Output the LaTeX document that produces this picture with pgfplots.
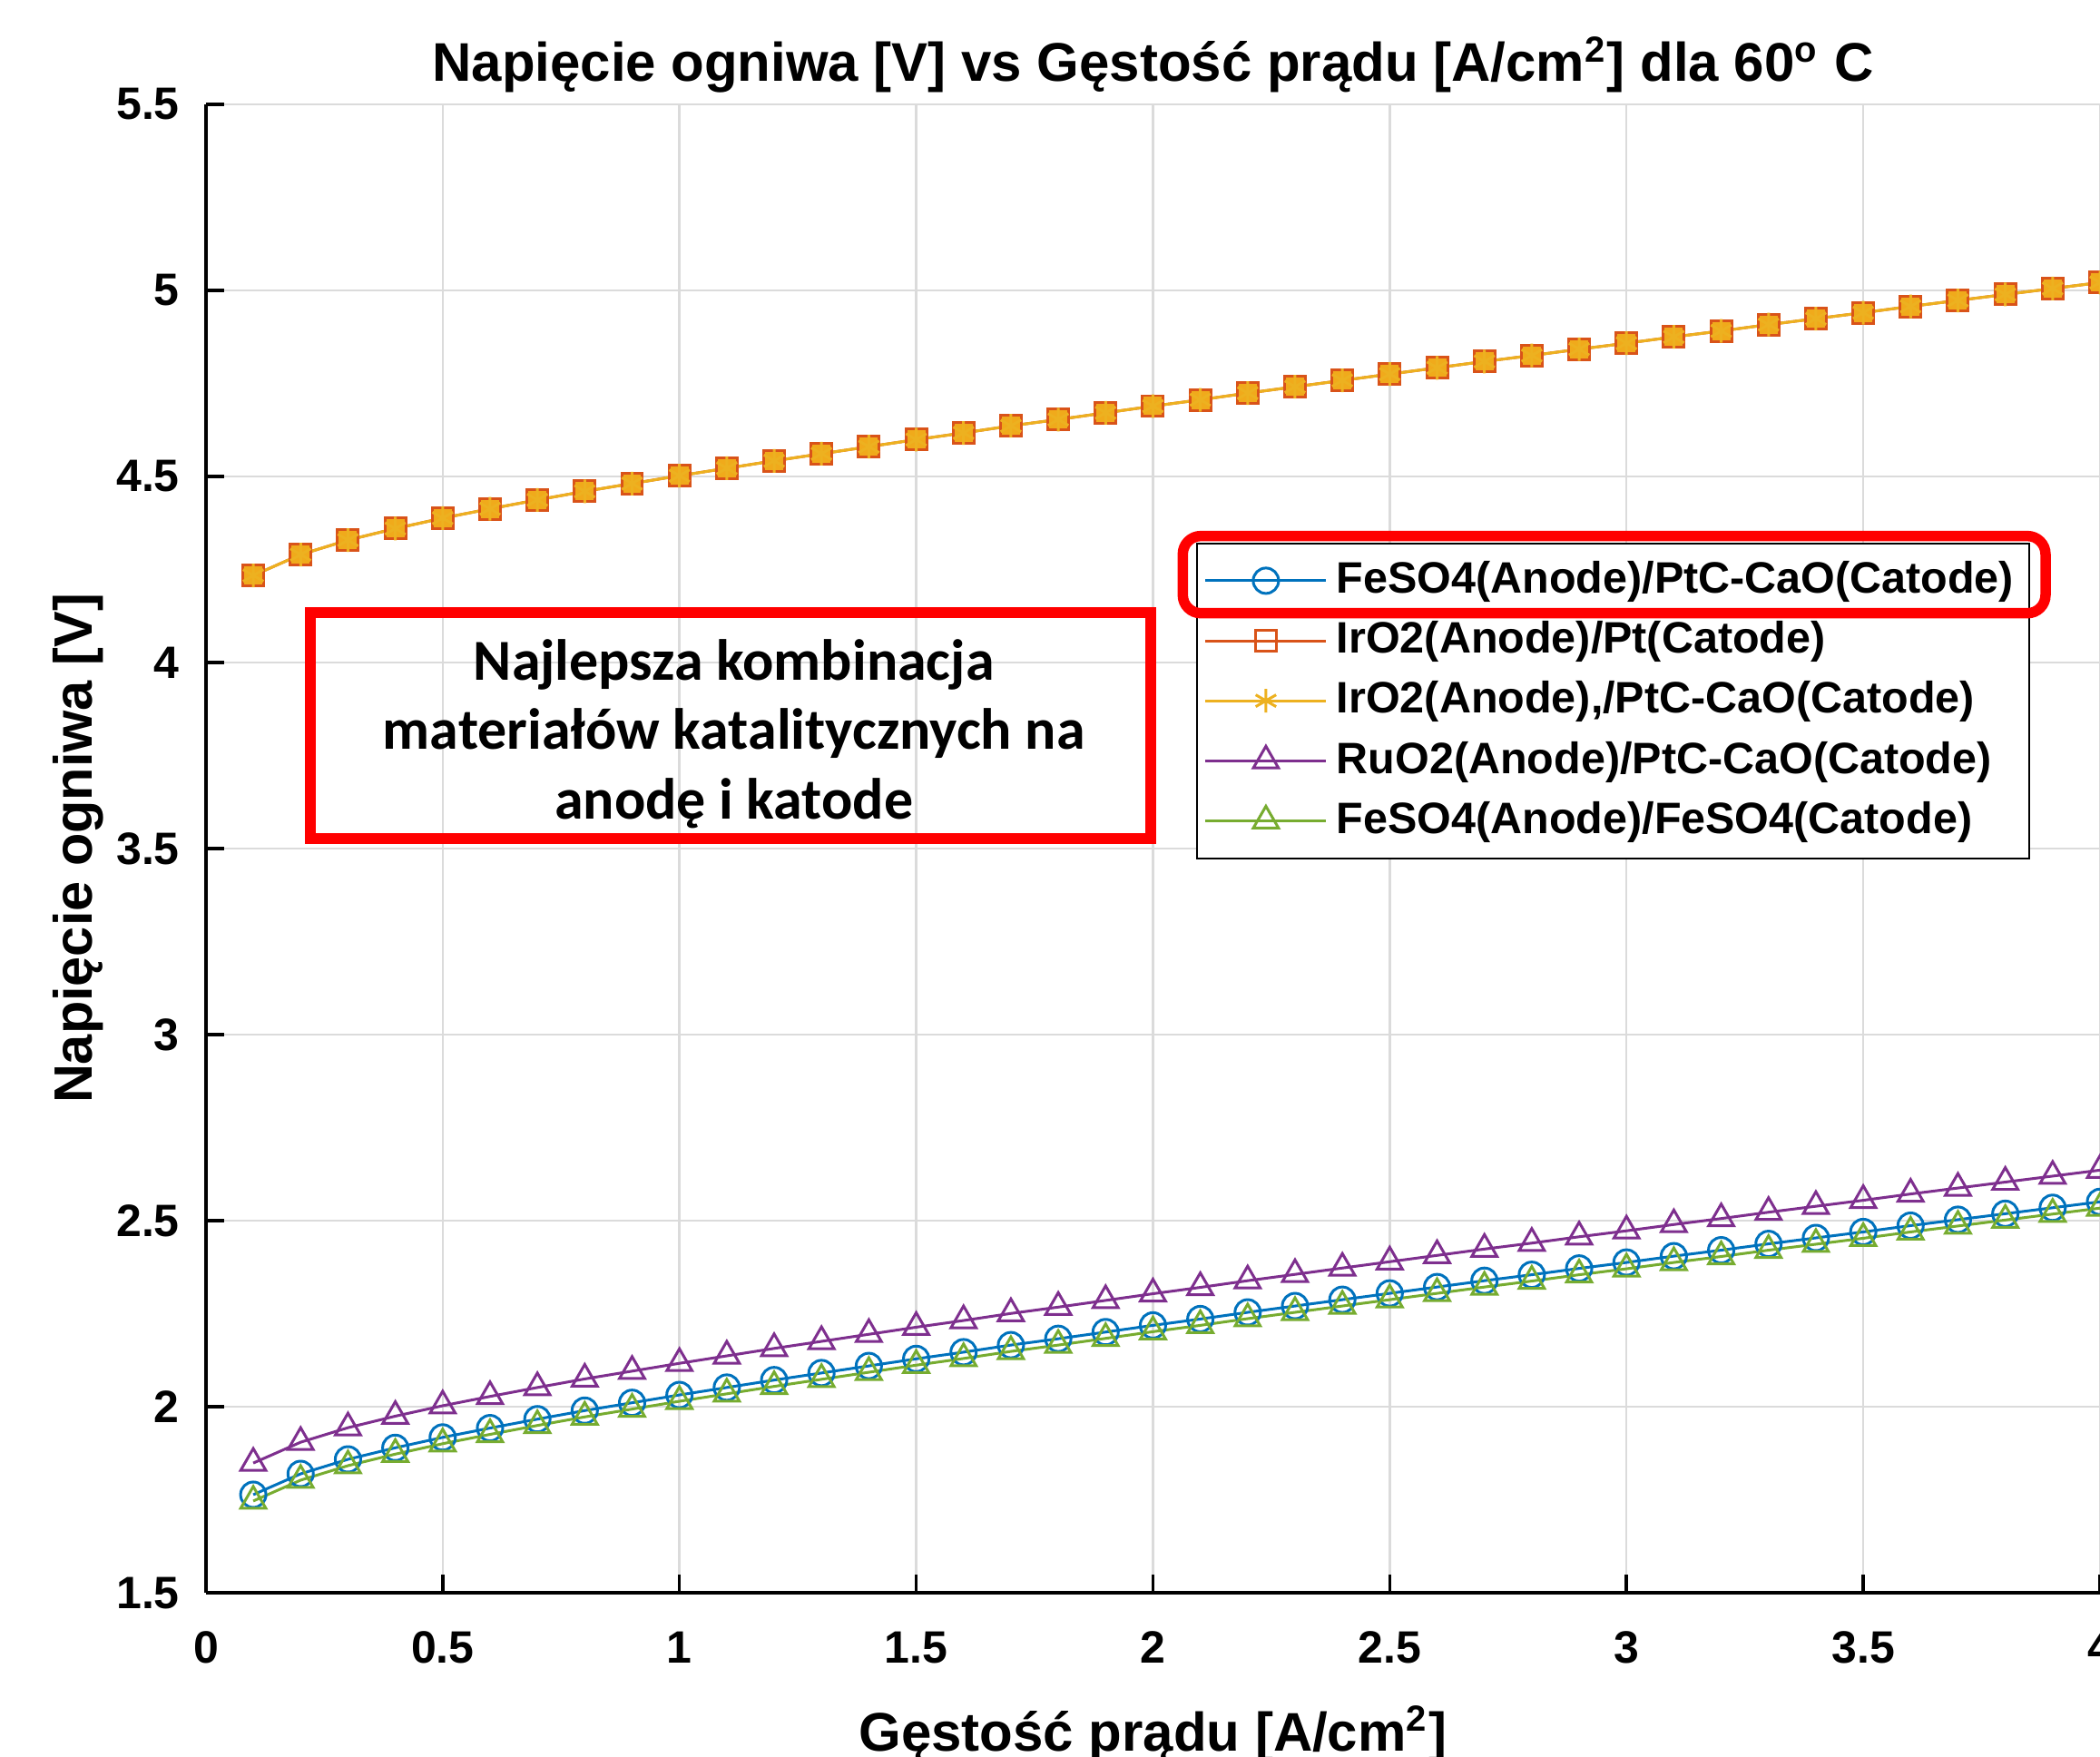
\documentclass[border=0pt]{standalone}
\usepackage{fontspec}
\setmainfont{Liberation Sans}
\newfontfamily\calibri{Carlito}
\usepackage{pgfplots}
\usepackage{pgfplotstable}
\pgfplotsset{compat=1.18}
\usetikzlibrary{calc}

\definecolor{mblue}{RGB}{0,114,189}
\definecolor{morange}{RGB}{217,83,25}
\definecolor{myellow}{RGB}{237,177,32}
\definecolor{mpurple}{RGB}{126,47,142}
\definecolor{mgreen}{RGB}{119,172,48}

% x, FeSO4/PtC-CaO, IrO2/Pt (and IrO2/PtC-CaO), RuO2/PtC-CaO, FeSO4/FeSO4
\pgfplotstableread{
x   fe    ir    ru    fefe
0.1 1.764 4.234 1.849 1.747
0.2 1.820 4.290 1.905 1.803
0.3 1.859 4.329 1.944 1.842
0.4 1.890 4.360 1.975 1.873
0.5 1.918 4.388 2.003 1.901
0.6 1.943 4.413 2.028 1.926
0.7 1.967 4.437 2.052 1.950
0.8 1.990 4.460 2.075 1.973
0.9 2.011 4.481 2.096 1.994
1.0 2.032 4.502 2.117 2.015
1.1 2.052 4.522 2.137 2.035
1.2 2.072 4.542 2.157 2.055
1.3 2.091 4.561 2.176 2.074
1.4 2.110 4.580 2.195 2.093
1.5 2.129 4.599 2.214 2.112
1.6 2.147 4.617 2.232 2.130
1.7 2.166 4.636 2.251 2.149
1.8 2.183 4.653 2.268 2.166
1.9 2.201 4.671 2.286 2.184
2.0 2.219 4.689 2.304 2.202
2.1 2.236 4.706 2.321 2.219
2.2 2.254 4.724 2.339 2.237
2.3 2.271 4.741 2.356 2.254
2.4 2.288 4.758 2.373 2.271
2.5 2.305 4.775 2.390 2.288
2.6 2.322 4.792 2.407 2.305
2.7 2.339 4.809 2.424 2.322
2.8 2.355 4.825 2.440 2.338
2.9 2.372 4.842 2.457 2.355
3.0 2.388 4.858 2.473 2.371
3.1 2.405 4.875 2.490 2.388
3.2 2.421 4.891 2.506 2.404
3.3 2.438 4.908 2.523 2.421
3.4 2.454 4.924 2.539 2.437
3.5 2.470 4.940 2.555 2.453
3.6 2.487 4.957 2.572 2.470
3.7 2.503 4.973 2.588 2.486
3.8 2.519 4.989 2.604 2.502
3.9 2.535 5.005 2.620 2.518
4.0 2.551 5.021 2.636 2.534
}\vdata

\begin{document}
\begin{tikzpicture}
\begin{axis}[
    scale only axis,
    width=417.6pt, height=328.2pt,
    xmin=0, xmax=4, ymin=1.5, ymax=5.5,
    xtick={0,0.5,1,1.5,2,2.5,3,3.5,4},
    ytick={1.5,2,2.5,3,3.5,4,4.5,5,5.5},
    axis x line*=bottom, axis y line*=left,
    axis line style={-, black, line width=0.8pt},
    tick align=inside,
    major tick length=4pt,
    every tick/.style={black, line width=0.7pt},
    grid=major,
    major grid style={gray!28, line width=0.5pt},
    /pgf/number format/assume math mode=true,
    tick label style={font=\bfseries\fontsize{10}{12}\selectfont},
    xticklabel style={yshift=-5pt},
    yticklabel style={xshift=-2.3pt},
    every axis title shift=0pt,
    title={Napięcie ogniwa [V] vs Gęstość prądu [A/cm\textsuperscript{2}] dla 60\textsuperscript{o} C},
    title style={at={(axis description cs:0.5,1.0152)}, anchor=base, font=\bfseries\fontsize{12}{14}\selectfont},
    xlabel={Gęstość prądu [A/cm\textsuperscript{2}]},
    xlabel style={at={(axis description cs:0.5,-0.106)}, anchor=base, font=\bfseries\fontsize{12}{14}\selectfont},
    ylabel={Napięcie ogniwa [V]},
    ylabel style={at={(axis description cs:-0.0599,0.5)}, anchor=base, font=\bfseries\fontsize{11.9}{14}\selectfont},
    legend cell align=left,
    legend image code/.code={\draw[mark repeat=2,mark phase=2] plot coordinates {(0pt,0pt) (13.3pt,0pt) (26.6pt,0pt)};},
    legend style={at={(axis cs:2.092,4.323)}, anchor=north west, draw=black, fill=white,
        font=\bfseries\fontsize{9.7}{11}\selectfont, inner xsep=1.5pt, inner ysep=2pt, row sep=0.7pt},
]
\addplot[color=mblue, line width=0.6pt, mark=o, mark size=2.8pt] table[x=x, y=fe] {\vdata};
\addlegendimage{color=morange, line width=0.6pt, mark=square, mark size=2.3pt}
\addplot[color=morange, line width=0.6pt, mark=square*, mark size=2.3pt, mark options={fill=myellow!85!orange}, forget plot] table[x=x, y=ir] {\vdata};
\addplot[color=myellow, line width=0.6pt, mark=asterisk, mark size=2.6pt] table[x=x, y=ir] {\vdata};
\addplot[color=mpurple, line width=0.6pt, mark=triangle, mark size=3.2pt] table[x=x, y=ru] {\vdata};
\addplot[color=mgreen, line width=0.6pt, mark=triangle, mark size=3.2pt] table[x=x, y=fefe] {\vdata};
\legend{FeSO4(Anode)/PtC-CaO(Catode), IrO2(Anode)/Pt(Catode), {IrO2(Anode),/PtC-CaO(Catode)}, RuO2(Anode)/PtC-CaO(Catode), FeSO4(Anode)/FeSO4(Catode)}

\coordinate (SW) at (rel axis cs:0,0);
\coordinate (NE) at (rel axis cs:1,1);
\coordinate (LB1) at (axis cs:2.063,4.340);
\coordinate (LB2) at (axis cs:3.885,4.1325);
\coordinate (AB1) at (axis cs:0.220,4.135);
\coordinate (AB2) at (axis cs:1.996,3.528);
\coordinate (AC) at (axis cs:1.115,3.808);
\end{axis}
\draw[red, line width=2.3pt, rounded corners=4pt] (LB1) rectangle (LB2);
\draw[red, line width=2.4pt] (AB1) rectangle (AB2);
\node[font=\calibri\bfseries\fontsize{12.8}{15.4}\selectfont, align=center] at (AC)
    {Najlepsza kombinacja\\materiałów katalitycznych na\\anodę i katode};
\pgfresetboundingbox
\path[use as bounding box] ($(SW)+(-45.4pt,-36pt)$) rectangle ($(NE)+(0pt,23pt)$);
\end{tikzpicture}
\end{document}
